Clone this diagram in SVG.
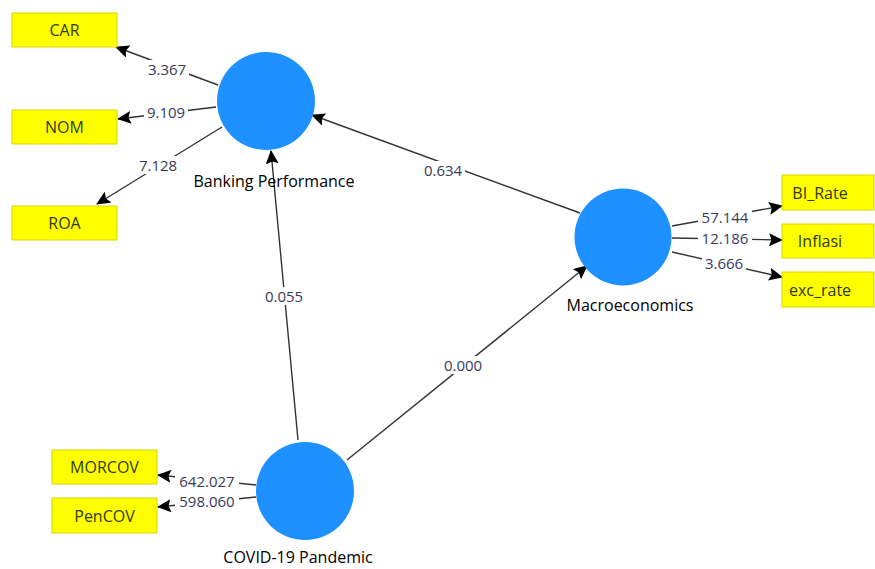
<svg xmlns="http://www.w3.org/2000/svg" width="875" height="569" viewBox="0 0 875 569">
<style>
.bg{fill:#ffffff}
.lv{fill:#1E90FF}
.ind rect{fill:#ffff00;stroke:#d6d600;stroke-width:1}
.ind text{font-family:"Open Sans","Noto Sans",sans-serif;font-size:16px;fill:#2f3a00;text-anchor:middle;dominant-baseline:central}
.name{font-family:"Open Sans","Noto Sans",sans-serif;font-size:16px;fill:#000;text-anchor:middle;dominant-baseline:central}
.edge line{stroke:#333;stroke-width:1.4;marker-end:url(#ah)}
.lbl rect{fill:#fff}
.lbl text{font-family:"Open Sans","Noto Sans",sans-serif;font-size:15px;fill:#3a3a5a;text-anchor:middle;dominant-baseline:central}
</style>
<defs>
<marker id="ah" markerUnits="userSpaceOnUse" markerWidth="14" markerHeight="13" viewBox="0 0 14 13" refX="13" refY="6.5" orient="auto">
<path d="M0,0 L14,6.5 L0,13 L2.5,6.5 z" fill="#000"/>
</marker>
</defs>
<rect class="bg" x="0" y="0" width="875" height="569"/>
<g id="connectors" class="edge">
<line x1="218" y1="85" x2="116" y2="47"/>
<line x1="216" y1="107" x2="118" y2="119"/>
<line x1="222" y1="127" x2="97" y2="204"/>
<line x1="298" y1="440" x2="271" y2="151"/>
<line x1="580" y1="213" x2="312" y2="115"/>
<line x1="347" y1="460" x2="587" y2="266"/>
<line x1="672" y1="226" x2="782" y2="206"/>
<line x1="672" y1="238" x2="782" y2="240"/>
<line x1="672" y1="252" x2="782" y2="277"/>
<line x1="256" y1="485" x2="158" y2="475"/>
<line x1="256" y1="497" x2="158" y2="507"/>
</g>
<g id="edge-labels" class="lbl">
<rect x="145" y="60" width="44" height="18"/><text x="167" y="69">3.367</text>
<rect x="144" y="103" width="44" height="18"/><text x="166" y="112">9.109</text>
<rect x="136" y="156" width="44" height="18"/><text x="158" y="165">7.128</text>
<rect x="262" y="287" width="44" height="18"/><text x="284" y="296">0.055</text>
<rect x="421" y="161" width="44" height="18"/><text x="443" y="170">0.634</text>
<rect x="441" y="356" width="44" height="18"/><text x="463" y="365">0.000</text>
<rect x="698" y="208" width="54" height="18"/><text x="725" y="217">57.144</text>
<rect x="698" y="229" width="54" height="18"/><text x="725" y="238">12.186</text>
<rect x="702" y="254" width="44" height="18"/><text x="724" y="263">3.666</text>
<rect x="175" y="472" width="64" height="18"/><text x="207" y="481">642.027</text>
<rect x="175" y="492" width="64" height="18"/><text x="207" y="501">598.060</text>
</g>
<g id="banking-performance">
<circle class="lv" cx="266" cy="101" r="49"/>
<text class="name" x="274" y="181">Banking Performance</text>
</g>
<g id="macroeconomics">
<circle class="lv" cx="623" cy="237" r="48.5"/>
<text class="name" x="630" y="305">Macroeconomics</text>
</g>
<g id="covid-19-pandemic">
<circle class="lv" cx="305" cy="491" r="49"/>
<text class="name" x="298" y="557">COVID-19 Pandemic</text>
</g>
<g id="CAR" class="ind"><rect x="12" y="13" width="105" height="34"/><text x="64.5" y="30">CAR</text></g>
<g id="NOM" class="ind"><rect x="12" y="110" width="105" height="34"/><text x="64.5" y="127">NOM</text></g>
<g id="ROA" class="ind"><rect x="12" y="206" width="105" height="34"/><text x="64.5" y="223">ROA</text></g>
<g id="BI_Rate" class="ind"><rect x="782" y="175" width="92" height="35"/><text x="820" y="192.5">BI_Rate</text></g>
<g id="Inflasi" class="ind"><rect x="782" y="224" width="92" height="34"/><text x="820" y="241">Inflasi</text></g>
<g id="exc_rate" class="ind"><rect x="782" y="272" width="92" height="35"/><text x="820" y="289.5">exc_rate</text></g>
<g id="MORCOV" class="ind"><rect x="52" y="450" width="105" height="34"/><text x="104.5" y="467">MORCOV</text></g>
<g id="PenCOV" class="ind"><rect x="52" y="498" width="105" height="35"/><text x="104.5" y="515.5">PenCOV</text></g>
</svg>
